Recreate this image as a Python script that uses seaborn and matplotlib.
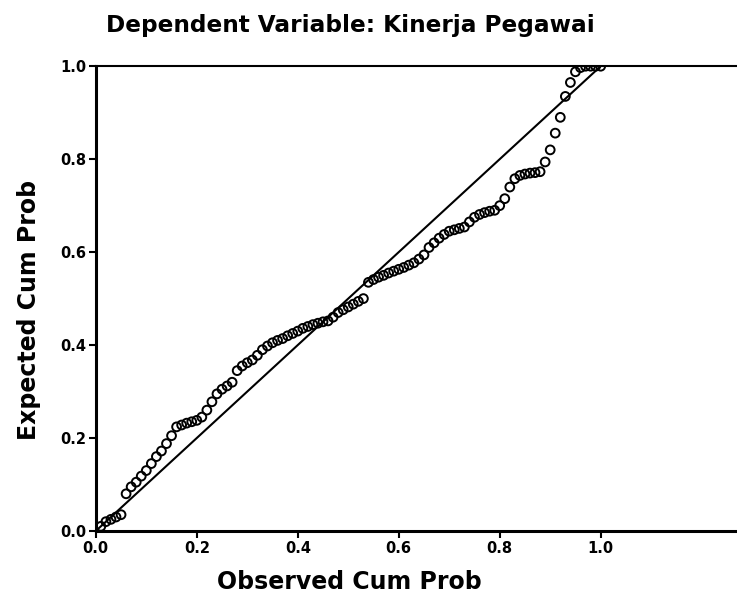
import matplotlib
matplotlib.use("Agg")
import matplotlib.pyplot as plt
import seaborn as sns
import pandas as pd

# Observed cumulative probability (x) and expected cumulative probability (y)
observed = [0.01, 0.02, 0.03, 0.04, 0.05, 0.06, 0.07, 0.08, 0.09, 0.10,
            0.11, 0.12, 0.13, 0.14, 0.15, 0.16, 0.17, 0.18, 0.19, 0.20,
            0.21, 0.22, 0.23, 0.24, 0.25, 0.26, 0.27, 0.28, 0.29, 0.30,
            0.31, 0.32, 0.33, 0.34, 0.35, 0.36, 0.37, 0.38, 0.39, 0.40,
            0.41, 0.42, 0.43, 0.44, 0.45, 0.46, 0.47, 0.48, 0.49, 0.50,
            0.51, 0.52, 0.53, 0.54, 0.55, 0.56, 0.57, 0.58, 0.59, 0.60,
            0.61, 0.62, 0.63, 0.64, 0.65, 0.66, 0.67, 0.68, 0.69, 0.70,
            0.71, 0.72, 0.73, 0.74, 0.75, 0.76, 0.77, 0.78, 0.79, 0.80,
            0.81, 0.82, 0.83, 0.84, 0.85, 0.86, 0.87, 0.88, 0.89, 0.90,
            0.91, 0.92, 0.93, 0.94, 0.95, 0.96, 0.97, 0.98, 0.99, 1.00]
expected = [0.010, 0.020, 0.025, 0.030, 0.035, 0.080, 0.095, 0.105, 0.118, 0.130,
            0.145, 0.160, 0.172, 0.188, 0.205, 0.224, 0.228, 0.232, 0.235, 0.238,
            0.245, 0.260, 0.278, 0.295, 0.305, 0.312, 0.320, 0.345, 0.355, 0.362,
            0.368, 0.378, 0.390, 0.398, 0.405, 0.410, 0.414, 0.420, 0.425, 0.430,
            0.436, 0.440, 0.444, 0.447, 0.450, 0.452, 0.460, 0.470, 0.476, 0.482,
            0.488, 0.494, 0.500, 0.535, 0.541, 0.546, 0.550, 0.555, 0.559, 0.563,
            0.567, 0.572, 0.577, 0.585, 0.594, 0.610, 0.620, 0.630, 0.638, 0.645,
            0.648, 0.651, 0.654, 0.665, 0.675, 0.681, 0.685, 0.688, 0.690, 0.700,
            0.715, 0.740, 0.758, 0.765, 0.768, 0.770, 0.771, 0.773, 0.794, 0.820,
            0.856, 0.890, 0.935, 0.965, 0.988, 0.997, 1.000, 1.000, 1.000, 1.000]
diag_x = [0.0, 1.0]
diag_y = [0.0, 1.0]
tick_values = [0.0, 0.2, 0.4, 0.6, 0.8, 1.0]
tick_labels = ["0.0", "0.2", "0.4", "0.6", "0.8", "1.0"]

title = "Dependent Variable: Kinerja Pegawai"
xlabel = "Observed Cum Prob"
ylabel = "Expected Cum Prob"

sns.set_theme(style="white")
plt.rcParams["font.family"] = ["DejaVu Sans"]

df = pd.DataFrame({"Observed": observed, "Expected": expected})
diag = pd.DataFrame({"x": diag_x, "y": diag_y})

fig = plt.figure(figsize=(7.37, 6.02), dpi=100)
ax = fig.add_axes([0.130, 0.118, 0.870, 0.772])

sns.lineplot(data=diag, x="x", y="y", ax=ax, color="black", linewidth=1.5, zorder=2)
sns.scatterplot(data=df, x="Observed", y="Expected", ax=ax, marker="o",
                s=40, facecolors="none", edgecolors="black", linewidth=1.4, zorder=3)

ax.set_xlim(0, 1.27)
ax.set_ylim(0, 1.0)
ax.set_xticks(tick_values)
ax.set_xticklabels(tick_labels)
ax.set_yticks(tick_values)
ax.set_yticklabels(tick_labels)

for side in ["left", "bottom"]:
    ax.spines[side].set_visible(True)
    ax.spines[side].set_color("black")
    ax.spines[side].set_linewidth(2.2)
ax.spines["top"].set_visible(True)
ax.spines["top"].set_color("black")
ax.spines["top"].set_linewidth(1.5)
ax.spines["right"].set_visible(False)

ax.tick_params(axis="both", direction="out", length=5, width=1.5, color="black",
               labelsize=10.5, labelcolor="black", pad=2,
               bottom=True, left=True)
for lab in ax.get_xticklabels() + ax.get_yticklabels():
    lab.set_fontweight("bold")

ax.set_xlabel(xlabel, fontsize=17, fontweight="bold", color="black")
ax.set_ylabel(ylabel, fontsize=17, fontweight="bold", color="black")
ax.xaxis.set_label_coords(0.396, -0.085)
ax.yaxis.set_label_coords(-0.085, 0.475)

fig.text(0.475, 0.958, title, ha="center", va="center", fontsize=16.7,
         fontweight="bold", color="black")

fig.savefig("out.png", dpi=100, facecolor="white")
